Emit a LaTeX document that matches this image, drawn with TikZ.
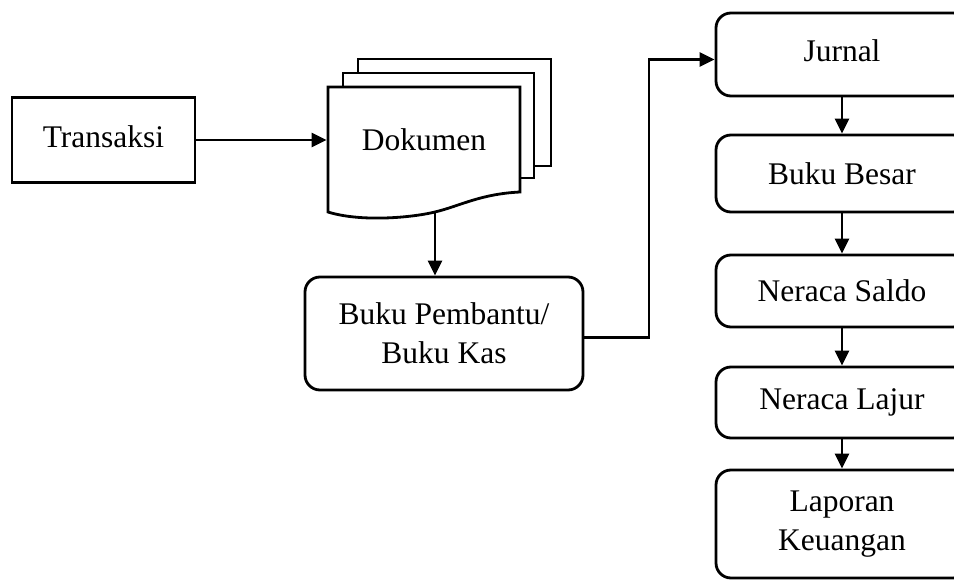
\documentclass[tikz,border=0pt]{standalone}
\usepackage{fontspec}
\setmainfont{Liberation Serif}
\usetikzlibrary{arrows.meta}
\begin{document}
\begin{tikzpicture}[x=1pt,y=-1pt,
  line width=2.8pt,
  txt/.style={font=\fontsize{31.5}{39}\selectfont, align=center},
  box/.style={txt, draw, line width=2.8pt, inner sep=0pt},
  rbox/.style={box, rounded corners=15pt},
  sheet/.style={draw, fill=white, line width=2.8pt},
  arr/.style={line width=2.8pt, -{Triangle[length=15pt,width=14pt]}},
]
\useasboundingbox (0,0) rectangle (954,580);
\clip (0,0) rectangle (954,580);

% Transaksi
\node[box, minimum width=183pt, minimum height=85pt] (trans) at (103.5,140) {\raisebox{7pt}{Transaksi}};

% Dokumen (multi-document)
\draw[sheet] (358,59) rectangle (551,166);
\draw[sheet] (343,73) rectangle (534,178);
\draw[sheet] (328,87) -- (520,87) -- (520,192)
  .. controls (480,194) and (460,206) .. (435,212)
  .. controls (410,218) and (360,222) .. (328,212) -- cycle;
\node[txt, minimum width=192pt, minimum height=100pt, inner sep=0pt] (dok) at (424,140) {Dokumen};
\coordinate (dokb) at (435,212);

% Buku Pembantu
\node[rbox, minimum width=278pt, minimum height=113pt] (pemb) at (444,333.5) {Buku Pembantu/\\Buku Kas};

% Right column
\node[rbox, minimum width=252pt, minimum height=83pt] (jur) at (842,54.5) {\raisebox{8pt}{Jurnal}};
\node[rbox, minimum width=252pt, minimum height=77pt] (bb) at (842,173.5) {Buku Besar};
\node[rbox, minimum width=252pt, minimum height=72pt] (ns) at (842,291) {Neraca Saldo};
\node[rbox, minimum width=252pt, minimum height=71pt] (nl) at (842,402.5) {Neraca Lajur};
\node[rbox, minimum width=252pt, minimum height=108pt] (lk) at (842,524) {Laporan\\Keuangan};

% Connectors
\draw[arr] (trans.east) -- (dok.west);
\draw[arr] (dokb) -- (dokb |- pemb.north);
\coordinate (jin) at ([yshift=-5pt]jur.west);
\draw[arr] ([yshift=-4pt]pemb.east) -- (649,337.5) |- (jin);
\draw[arr] (jur.south) -- (bb.north);
\draw[arr] (bb.south) -- (ns.north);
\draw[arr] (ns.south) -- (nl.north);
\draw[arr] (nl.south) -- (lk.north);
\end{tikzpicture}
\end{document}
